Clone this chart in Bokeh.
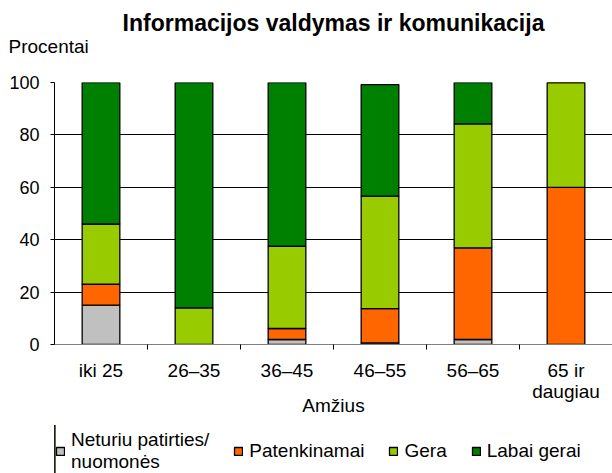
from bokeh.plotting import figure
from bokeh.layouts import column
from bokeh.models import FixedTicker, Legend, LegendItem, Title, ColumnDataSource, Range1d
from bokeh.embed import file_html
from bokeh.resources import INLINE

categories = ["iki 25", "26–35", "36–45", "46–55", "56–65", "65 ir\ndaugiau"]
neturiu = [15, 0, 1.9, 0.6, 1.9, 0]
patenkinamai = [8, 0, 4.2, 13.1, 35, 60]
gera = [23, 14, 31.4, 42.9, 47.3, 40]
labai_gerai = [54, 86, 62.5, 42.6, 15.8, 0]
series_names = ["Neturiu patirties/\nnuomonės", "Patenkinamai", "Gera", "Labai gerai"]
colors = ["#C0C0C0", "#FF6600", "#99CC00", "#008000"]
y_ticks = [0, 20, 40, 60, 80, 100]

FONT = "Liberation Sans"
FS = "19px"
stack_cols = ["neturiu", "patenkinamai", "gera", "labai_gerai"]
xpos = [i + 0.5 for i in range(len(categories))]
source = ColumnDataSource(dict(x=xpos, neturiu=neturiu, patenkinamai=patenkinamai,
                               gera=gera, labai_gerai=labai_gerai))

p = figure(frame_width=558, frame_height=262, output_backend="svg", toolbar_location=None,
           title=None,
           x_range=Range1d(0, len(categories)), y_range=Range1d(0, 100),
           min_border_left=54, min_border_right=0, min_border_top=82, min_border_bottom=81)
p.outline_line_color = None
p.background_fill_color = "white"

rs = p.vbar_stack(stack_cols, x="x", width=0.405,
                  color=colors, line_color="black", line_width=1.3, source=source)

# x axis
p.xaxis.ticker = FixedTicker(ticks=xpos, minor_ticks=[1, 2, 3, 4, 5])
p.xaxis.major_label_overrides = {x: c for x, c in zip(xpos, categories)}
p.xaxis.major_tick_out = 0
p.xaxis.major_tick_in = 0
p.xaxis.minor_tick_out = 5
p.xaxis.minor_tick_in = 0
p.xaxis.minor_tick_line_color = "black"
p.xaxis.axis_line_color = "#808080"
p.xaxis.major_label_standoff = 10
p.xaxis.major_label_text_font = FONT
p.xaxis.major_label_text_font_size = FS
p.xaxis.major_label_text_line_height = 1.0
p.xaxis.major_label_text_color = "black"
p.xaxis.axis_label = "Amžius"
p.xaxis.axis_label_text_font = FONT
p.xaxis.axis_label_text_font_size = FS
p.xaxis.axis_label_text_font_style = "normal"
p.xaxis.axis_label_text_color = "black"
p.xaxis.axis_label_standoff = -10

# y axis
p.yaxis.ticker = FixedTicker(ticks=y_ticks)
p.yaxis.minor_tick_line_color = None
p.yaxis.major_tick_out = 4
p.yaxis.major_tick_in = 0
p.yaxis.major_tick_line_color = "black"
p.yaxis.axis_line_color = "black"
p.yaxis.major_label_standoff = 11
p.yaxis.major_label_text_font = FONT
p.yaxis.major_label_text_font_size = "18px"
p.yaxis.major_label_text_color = "black"

p.xgrid.grid_line_color = None
p.ygrid.ticker = FixedTicker(ticks=y_ticks)
p.ygrid.grid_line_color = "black"
p.ygrid.grid_line_width = 1

# titles (first added sits closest to the frame)
proc_kw = dict(text="Procentai", align="left", offset=-46, vertical_align="top",
               text_font=FONT, text_font_size=FS, text_font_style="normal", text_color="black")
try:
    proc_title = Title(standoff=0, padding=dict(left=0, right=0, top=0, bottom=24), **proc_kw)
except Exception:
    proc_title = Title(standoff=24, **proc_kw)
p.add_layout(proc_title, "above")
p.add_layout(Title(text="Informacijos valdymas ir komunikacija", align="center", offset=-2,
                   standoff=0, text_font=FONT, text_font_size="23px",
                   text_font_style="bold", text_color="black"), "above")

# legend strip below the chart (its swatch renderers use the same data, out of view)
leg = figure(width=612, height=48, output_backend="svg", toolbar_location=None,
             x_axis_type=None, y_axis_type=None, title=None,
             x_range=Range1d(100, 101), y_range=Range1d(0, 1),
             min_border_left=0, min_border_right=0, min_border_top=0, min_border_bottom=0)
leg.outline_line_color = None
swatches = leg.vbar_stack(stack_cols, x="x", width=0.405,
                          color=colors, line_color="black", line_width=1.3, source=source)

legend = Legend(items=[LegendItem(label=n, renderers=[r]) for n, r in zip(series_names, swatches)],
                orientation="horizontal", location=(1, 0))
legend.glyph_width = 10
legend.glyph_height = 10
legend.label_text_font = FONT
legend.label_text_font_size = FS
legend.label_text_color = "black"
legend.label_standoff = 6
legend.spacing = 24
legend.padding = 0
legend.margin = 0
legend.border_line_color = None
legend.background_fill_alpha = 0
leg.add_layout(legend, "center")

layout = column(p, leg, spacing=0)
open("out.html", "w").write(file_html(layout, INLINE))
